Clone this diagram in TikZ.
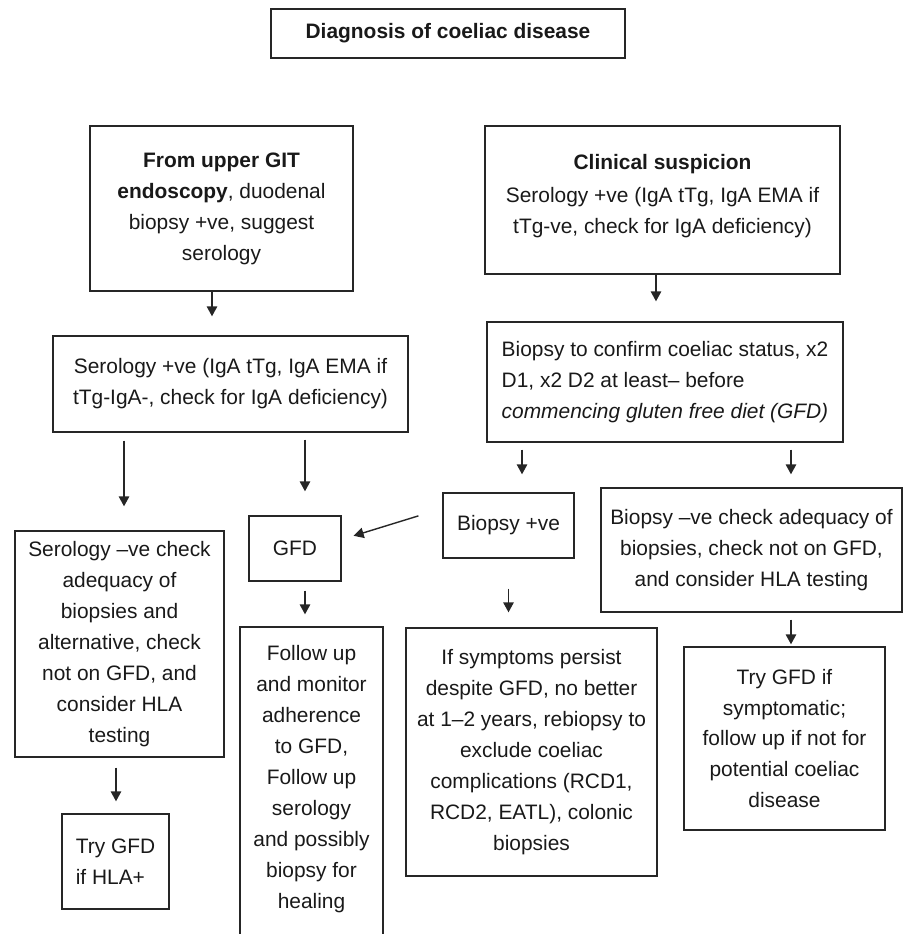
\documentclass[tikz,border=0pt]{standalone}
\usepackage{fontspec}
\setmainfont{Liberation Sans}
\usetikzlibrary{arrows.meta}
\tikzset{box/.style={draw=black!85,line width=0.8pt,inner sep=0pt,align=center,text=black!90,font=\fontsize{11.9}{17.6}\selectfont}}
\tikzset{arr/.style={draw=black!85,line width=0.8pt,-{Triangle[length=2mm,width=2.1mm]}}}

\begin{document}
\begin{tikzpicture}[x=0.02cm,y=-0.02cm]
    \clip (0,0) rectangle (911,934);

    \node[box,minimum width=7.08cm,minimum height=0.98cm] (title) at (448,33.5) {\textbf{Diagnosis of coeliac disease}};

    \node[box,minimum width=5.26cm,minimum height=3.3cm] (ul) at (221.5,208.5) {\textbf{From upper GIT}\\ \textbf{endoscopy}, duodenal\\ biopsy +ve, suggest\\ serology};
    \node[box,minimum width=7.1cm,minimum height=2.96cm] (clin) at (662.5,200) {\textbf{Clinical suspicion}\\[1pt] Serology +ve (IgA tTg, IgA EMA if\\ tTg-ve, check for IgA deficiency)\\[-11pt]};

    \node[box,minimum width=7.1cm,minimum height=1.92cm] (sp) at (230.5,384) {Serology +ve (IgA tTg, IgA EMA if\\ tTg-IgA-, check for IgA deficiency)};
    \node[box,minimum width=7.12cm,minimum height=2.4cm,align=left] (bc) at (665,382) {Biopsy to confirm coeliac status, x2\\ D1, x2 D2 at least– before\\ \textit{commencing gluten free diet (GFD)}};

    \node[box,minimum width=4.18cm,minimum height=4.52cm] (sn) at (119.5,644) {Serology –ve check\\ adequacy of\\ biopsies and\\ alternative, check\\ not on GFD, and\\ consider HLA\\ testing};
    \node[box,minimum width=1.84cm,minimum height=1.3cm] (gfd) at (295,548.5) {GFD};
    \node[box,minimum width=2.62cm,minimum height=1.3cm] (bpos) at (508.5,525.5) {Biopsy +ve};
    \node[box,minimum width=6.02cm,minimum height=2.48cm] (bneg) at (751.5,550) {Biopsy –ve check adequacy of\\ biopsies, check not on GFD,\\ and consider HLA testing};

    \node[box,minimum width=2.14cm,minimum height=1.9cm,align=left] (trya) at (115.5,861.5) {Try GFD\\ if HLA+};
    \node[box,minimum width=2.86cm,minimum height=6.62cm] (fu) at (311.5,792.5) {Follow up\\ and monitor\\ adherence\\ to GFD,\\ Follow up\\ serology\\ and possibly\\ biopsy for\\ healing\\ ~};
    \node[box,minimum width=5.02cm,minimum height=4.96cm] (sympt) at (531.5,752) {If symptoms persist\\ despite GFD, no better\\ at 1–2 years, rebiopsy to\\ exclude coeliac\\ complications (RCD1,\\ RCD2, EATL), colonic\\ biopsies};
    \node[box,minimum width=4.02cm,minimum height=3.66cm] (tryb) at (784.5,738.5) {Try GFD if\\ symptomatic;\\ follow up if not for\\ potential coeliac\\ disease};

    \draw[arr,shorten >=0.38cm] ([xshift=-0.19cm]ul.south) -- ([xshift=-0.19cm]ul.south |- sp.north);
    \draw[arr,shorten >=0.4cm] ([xshift=-0.13cm]clin.south) -- ([xshift=-0.13cm]clin.south |- bc.north);
    \draw[arr,shorten <=0.16cm,shorten >=0.48cm] ([xshift=-2.13cm]sp.south) -- ([xshift=-2.13cm]sp.south |- sn.north);
    \draw[arr,shorten <=0.14cm,shorten >=0.48cm] ([xshift=1.49cm]sp.south) -- ([xshift=1.49cm]sp.south |- gfd.north);
    \draw[arr,shorten <=0.14cm,shorten >=0.36cm] ([xshift=-2.86cm]bc.south) -- ([xshift=-2.86cm]bc.south |- bpos.north);
    \draw[arr,shorten <=0.14cm,shorten >=0.26cm] ([xshift=2.52cm]bc.south) -- ([xshift=2.52cm]bc.south |- bneg.north);
    \draw[arr,shorten <=0.5cm,shorten >=0.25cm] ([yshift=0.34cm]bpos.west) -- ([yshift=0.18cm]gfd.east);
    \draw[arr,shorten <=0.6cm,shorten >=0.3cm] (bpos.south) -- (bpos.south |- sympt.north);
    \draw[arr,shorten <=0.14cm,shorten >=0.04cm] ([xshift=0.79cm]bneg.south) -- ([xshift=0.79cm]bneg.south |- tryb.north);
    \draw[arr,shorten <=0.2cm,shorten >=0.24cm] ([xshift=-0.07cm]sn.south) -- ([xshift=-0.07cm]sn.south |- trya.north);
    \draw[arr,shorten <=0.18cm,shorten >=0.24cm] ([xshift=0.2cm]gfd.south) -- ([xshift=0.2cm]gfd.south |- fu.north);
\end{tikzpicture}
\end{document}
